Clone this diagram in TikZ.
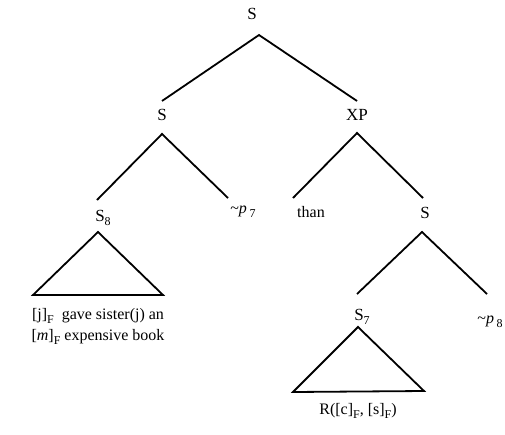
\documentclass[tikz,border=0pt]{standalone}
\usepackage{fontspec}
\setmainfont{Liberation Serif}
\usetikzlibrary{positioning}
\newcommand{\lo}[1]{\raisebox{-0.55ex}{\fontsize{12}{12}\selectfont #1}}

\begin{document}
\begin{tikzpicture}[x=1pt,y=-1pt,
  lab/.style={font=\fontsize{16}{21}\selectfont, inner sep=0pt},
  cat/.style={lab, font=\fontsize{17}{21}\selectfont},
  branch/.style={line width=1.8pt}]
\useasboundingbox (0,0) rectangle (505,434);

% category labels
\node[cat] (root) at (252,14) {S};
\node[cat] (sL) at (162,115) {S};
\node[cat] (xp) at (357,115) {XP};
\node[cat] (s8) at (103,218) {S\lo{8}};
\node[lab] (p7) at (243,212) {\textasciitilde\textit{p}\,\lo{7}};
\node[lab] (than) at (311,212) {than};
\node[cat] (sR) at (425,213) {S};
\node[cat] (s7) at (362,317) {S\lo{7}};
\node[lab] (p8) at (490,322) {\textasciitilde\textit{p}\,\lo{8}};

% terminal strings
\node[lab, align=center] (txt8) at (98,326) {[j]\lo{F}\ \ gave sister(j) an\\{}{[}\textit{m}]\lo{F} expensive book};
\node[lab] (txt7) at (358,411) {R([c]\lo{F}, [s]\lo{F})};

% branch points
\coordinate (rootA) at (259,35);
\coordinate (sLtop) at (162,101);
\coordinate (xpTop) at (357,101);
\coordinate (sLA) at (162,134);
\coordinate (s8top) at (97,200);
\coordinate (p7top) at (228,198);
\coordinate (xpA) at (357,133);
\coordinate (thanTop) at (293,198);
\coordinate (sRtop) at (423,198);
\coordinate (sRA) at (422,232);
\coordinate (s7top) at (357,294);
\coordinate (p8top) at (487,294);

% triangles
\coordinate (s8A) at (98,232);
\coordinate (s8BL) at (33,295);
\coordinate (s8BR) at (163,295);
\coordinate (s7A) at (358,327);
\coordinate (s7BL) at (293,392);
\coordinate (s7BR) at (424,391);

\draw[branch] (sLtop) -- (rootA) -- (xpTop);
\draw[branch] (s8top) -- (sLA) -- (p7top);
\draw[branch] (thanTop) -- (xpA) -- (sRtop);
\draw[branch] (s7top) -- (sRA) -- (p8top);
\draw[branch] (s8A) -- (s8BL) -- (s8BR) -- cycle;
\draw[branch] (s7A) -- (s7BL) -- (s7BR) -- cycle;
\end{tikzpicture}
\end{document}
